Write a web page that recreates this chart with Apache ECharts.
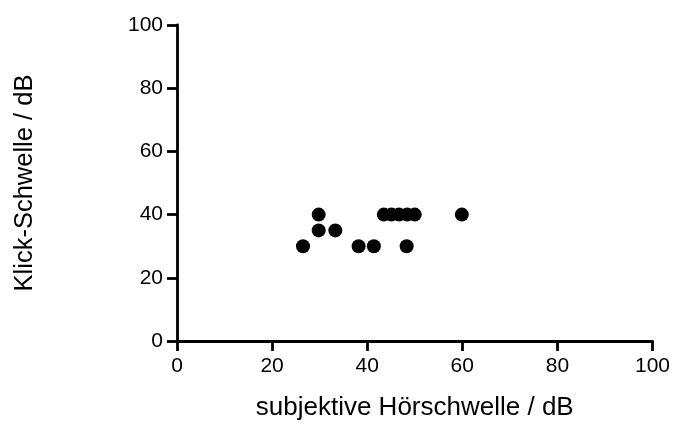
<!DOCTYPE html>
<html>
<head>
<meta charset="utf-8">
<script src="https://cdn.jsdelivr.net/npm/echarts@6/dist/echarts.min.js"></script>
<style>
  html, body { margin: 0; padding: 0; background: #fff; }
  #chart { width: 673px; height: 426px; }
</style>
</head>
<body>
<div id="chart"></div>
<script>
// Subjective hearing threshold vs. click threshold (dB)
const hoerschwelle = [26.5, 29.8, 29.8, 33.3, 38.2, 41.4, 48.3, 43.5, 45.1, 46.7, 48.4, 50.0, 59.9];
const klickSchwelle = [30, 40, 35, 35, 30, 30, 30, 40, 40, 40, 40, 40, 40];
const tickValues = [0, 20, 40, 60, 80, 100];

const points = hoerschwelle.map((x, i) => [x, klickSchwelle[i]]);

const font = 'Liberation Sans, Arial, Helvetica, sans-serif';

function axisCommon(name, gap, nameSize) {
  return {
    type: 'value',
    min: tickValues[0],
    max: tickValues[tickValues.length - 1],
    interval: tickValues[1] - tickValues[0],
    name: name,
    nameLocation: 'middle',
    nameGap: gap,
    nameTextStyle: { color: '#000', fontSize: nameSize, fontFamily: font },
    axisLine: { show: true, onZero: false, lineStyle: { color: '#000', width: 2.8 } },
    axisTick: { show: true, inside: false, length: 10, lineStyle: { color: '#000', width: 2.8 } },
    axisLabel: { color: '#000', fontSize: 21, fontFamily: font, margin: 14 },
    splitLine: { show: false }
  };
}

const chart = echarts.init(document.getElementById('chart'), null, { renderer: 'canvas' });
const xAxis = axisCommon('subjektive Hörschwelle / dB', 54, 26);
xAxis.axisLabel.margin = 15;
const yAxis = axisCommon('Klick-Schwelle / dB', 139, 25.5);
chart.setOption({
  animation: false,
  backgroundColor: '#fff',
  grid: { left: 177, right: 19, top: 25, bottom: 82, containLabel: false },
  xAxis: xAxis,
  yAxis: yAxis,
  series: [{
    type: 'scatter',
    data: points,
    symbol: 'circle',
    symbolSize: 14,
    itemStyle: { color: '#000', opacity: 1 }
  }]
});
</script>
</body>
</html>
